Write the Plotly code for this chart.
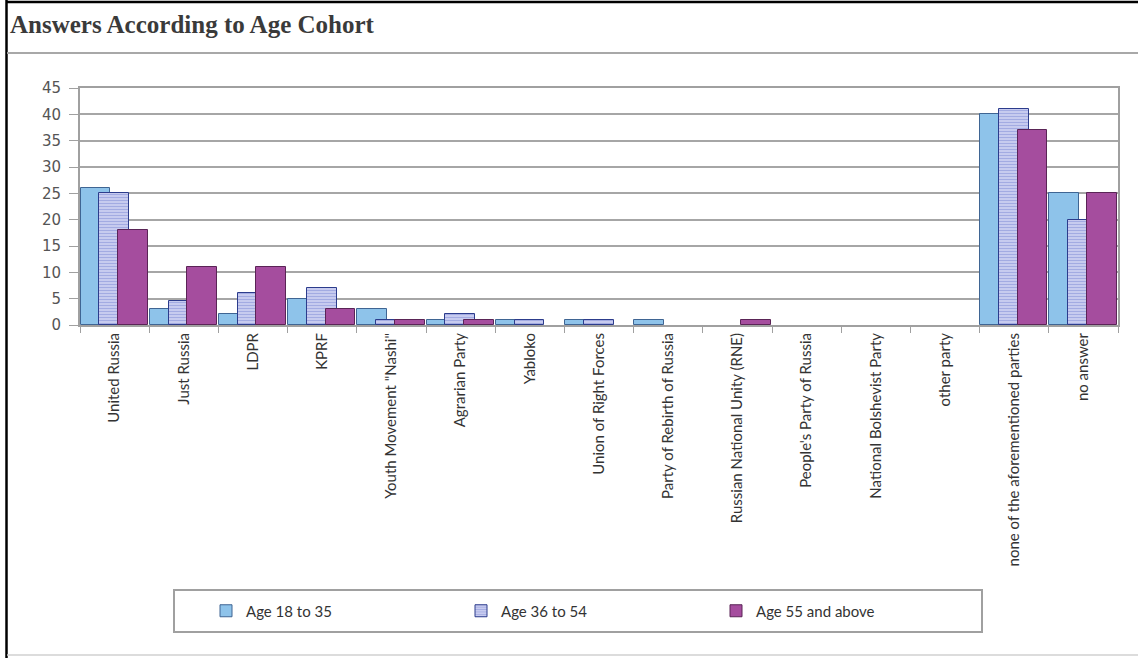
import plotly.graph_objects as go

categories = ["United Russia", "Just Russia", "LDPR", "KPRF", "Youth Movement \"Nashi\"",
              "Agrarian Party", "Yabloko", "Union of Right Forces", "Party of Rebirth of Russia",
              "Russian National Unity (RNE)", "People's Party of Russia", "National Bolshevist Party",
              "other party", "none of the aforementioned parties", "no answer"]
age_18_35 = [26, 3, 2, 5, 3, 1, 1, 1, 1, 0, 0, 0, 0, 40, 25]
age_36_54 = [25, 4.5, 6, 7, 1, 2, 1, 1, 0, 0, 0, 0, 0, 41, 20]
age_55_up = [18, 11, 11, 3, 1, 1, 0, 0, 0, 1, 0, 0, 0, 37, 25]
series_names = ["Age 18 to 35", "Age 36 to 54", "Age 55 and above"]
y_ticks = [0, 5, 10, 15, 20, 25, 30, 35, 40, 45]

W, H = 1138, 658
L, R, T, B = 80, 20, 88, 333
pw, ph = W - L - R, H - T - B

def px(x):
    return (x - L) / pw

def py(y):
    return (H - B - y) / ph

def edge_widths(values):
    # no outline for empty (zero) bars
    return [1 if v else 0 for v in values]

fig = go.Figure()
fig.add_trace(go.Bar(
    x=categories, y=age_18_35, name=series_names[0],
    width=0.43, offset=-0.49,
    marker=dict(color="#8ec3ea", line=dict(color="#3f6593", width=edge_widths(age_18_35))),
))
fig.add_trace(go.Bar(
    x=categories, y=age_36_54, name=series_names[1],
    width=0.43, offset=-0.22,
    marker=dict(color="#cdd2f1", line=dict(color="#2c3c8c", width=edge_widths(age_36_54)),
                pattern=dict(shape="-", fgcolor="#7480d2", bgcolor="#d2d6f3", size=3, solidity=0.5)),
))
fig.add_trace(go.Bar(
    x=categories, y=age_55_up, name=series_names[2],
    width=0.43, offset=0.05,
    marker=dict(color="#a54d9e", line=dict(color="#5a2456", width=edge_widths(age_55_up))),
))

shapes = [
    dict(type="line", xref="paper", yref="paper", x0=px(6), x1=px(W), y0=py(2), y1=py(2),
         line=dict(color="#000000", width=2.5)),
    dict(type="line", xref="paper", yref="paper", x0=px(6.5), x1=px(6.5), y0=py(0), y1=py(H),
         line=dict(color="#000000", width=2.5)),
    dict(type="line", xref="paper", yref="paper", x0=px(7), x1=px(W), y0=py(53), y1=py(53),
         line=dict(color="#a8a8a8", width=2)),
    dict(type="line", xref="paper", yref="paper", x0=px(7), x1=px(W), y0=py(655), y1=py(655),
         line=dict(color="#d0d0d0", width=1.5)),
    dict(type="rect", xref="paper", yref="paper", x0=px(174), x1=px(982), y0=py(590), y1=py(632),
         line=dict(color="#a0a0a0", width=2), fillcolor="rgba(0,0,0,0)"),
]

fig.update_layout(
    width=W, height=H,
    margin=dict(l=L, r=R, t=T, b=B, pad=0, autoexpand=False),
    barmode="overlay",
    paper_bgcolor="white", plot_bgcolor="white",
    font=dict(family="Lato, DejaVu Sans, sans-serif", color="#444444", size=13),
    showlegend=True,
    legend=dict(orientation="h", xref="container", yref="container",
                x=206 / W, y=(H - 611) / H, xanchor="left", yanchor="middle",
                entrywidth=210, entrywidthmode="pixels", bgcolor="rgba(0,0,0,0)",
                font=dict(size=15, color="#333333"), itemwidth=30, traceorder="normal"),
    shapes=shapes,
    annotations=[dict(text="<b>Answers According to Age Cohort</b>", xref="paper", yref="paper",
                      x=px(8), y=py(25), xanchor="left", yanchor="middle", showarrow=False,
                      font=dict(family="Liberation Serif, serif", size=25, color="#3a3a3a"))],
    xaxis=dict(type="category", tickangle=-90, tickson="boundaries", ticks="outside",
               ticklen=6, tickcolor="#a0a0a0", showline=True, linecolor="#a0a0a0", linewidth=2,
               mirror=True, showgrid=False, tickfont=dict(size=15, color="#333333"),
               range=[-0.5, len(categories) - 0.5], automargin=False),
    yaxis=dict(range=[0, 45], tickvals=y_ticks, ticks="outside", ticklen=9, tickcolor="#a0a0a0",
               showline=True, linecolor="#a0a0a0", linewidth=2, mirror=True,
               showgrid=True, gridcolor="#a6a6a6", gridwidth=2, zeroline=False,
               ticklabelstandoff=5,
               tickfont=dict(family="DejaVu Sans, sans-serif", size=15, color="#555555"),
               automargin=False),
    bargap=0,
)

fig.write_html("out.html", config={"displayModeBar": False},
               post_script="document.body.style.margin='0';")
